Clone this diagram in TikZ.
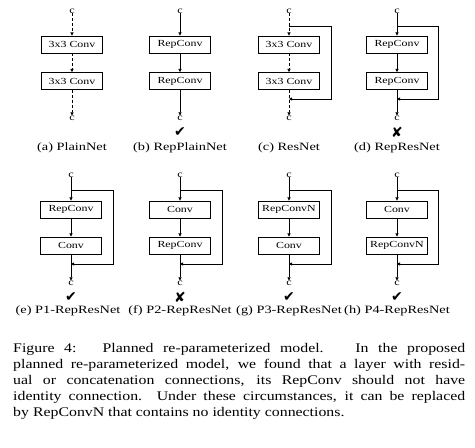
\documentclass[tikz,border=0pt]{standalone}
\usepackage{fontspec}
\setmainfont{Liberation Serif}[FakeStretch=1.28]
\newfontfamily\capfont{Liberation Serif}[FakeStretch=1.2]
\newfontfamily\symfont{DejaVu Sans}
\usetikzlibrary{arrows.meta}
\begin{document}
\begin{tikzpicture}[x=1pt,y=-1pt,
  blk/.style={draw, line width=0.8pt, minimum width=61pt, minimum height=17pt, inner sep=0pt, font=\fontsize{9.3}{10}\selectfont},
  clbl/.style={inner sep=0pt, font=\fontsize{9.5}{10}\selectfont},
  sub/.style={inner sep=0pt, font=\fontsize{11.2}{12}\selectfont},
  chk/.style={inner sep=0pt, font=\symfont\fontsize{14}{14}\selectfont},
  capl/.style={inner sep=0pt, anchor=base west, font=\capfont\fontsize{13.2}{16}\selectfont},
  arr/.style={-{Triangle[length=3.2pt,width=3.2pt]}, line width=0.7pt},
  dsh/.style={dashed, dash pattern=on 3pt off 2pt},
  conn/.style={line width=0.7pt}
]
\useasboundingbox (0,0) rectangle (475,448);

% ---------- top row ----------
% (a) PlainNet
\node[clbl] (ac1) at (72,11) {c};
\node[blk] (ab1) at (72,44.5) {3x3 Conv};
\node[blk] (ab2) at (72,81) {3x3 Conv};
\node[clbl] (ac2) at (72,118) {c};
\draw[arr,dsh] (ac1) -- (ab1);
\draw[arr,dsh] (ab1) -- (ab2);
\draw[arr,dsh] (ab2) -- (ac2);
\node[sub] (al) at (72,148) {(a) PlainNet};

% (b) RepPlainNet
\node[clbl] (bc1) at (180,11) {c};
\node[blk] (bb1) at (180,44.5) {RepConv};
\node[blk] (bb2) at (180,81) {RepConv};
\node[clbl] (bc2) at (180,118) {c};
\draw[arr] (bc1) -- (bb1);
\draw[arr] (bb1) -- (bb2);
\draw[arr] (bb2) -- (bc2);
\node[chk] (bm) at (180,132) {✔};
\node[sub] (bl) at (180,148) {(b) RepPlainNet};

% (c) ResNet
\node[clbl] (cc1) at (289,11) {c};
\node[blk] (cb1) at (289,44.5) {3x3 Conv};
\node[blk] (cb2) at (289,81) {3x3 Conv};
\node[clbl] (cc2) at (289,118) {c};
\draw[arr,dsh] (cc1) -- (cb1);
\draw[arr,dsh] (cb1) -- (cb2);
\draw[arr,dsh] (cb2) -- (cc2);
\coordinate (cs) at (289,26);
\coordinate (cr1) at (331,26);
\coordinate (cr2) at (331,99);
\coordinate (ce) at (289,99);
\draw[arr] (cs) -- (cr1) -- (cr2) -- (ce);
\node[sub] (cl) at (289,148) {(c) ResNet};

% (d) RepResNet
\node[clbl] (dc1) at (397,11) {c};
\node[blk] (db1) at (397,44.5) {RepConv};
\node[blk] (db2) at (397,81) {RepConv};
\node[clbl] (dc2) at (397,118) {c};
\draw[arr] (dc1) -- (db1);
\draw[arr] (db1) -- (db2);
\draw[arr] (db2) -- (dc2);
\coordinate (ds) at (397,26);
\coordinate (dr1) at (438,26);
\coordinate (dr2) at (438,99);
\coordinate (de) at (397,99);
\draw[arr] (ds) -- (dr1) -- (dr2) -- (de);
\node[chk] (dm) at (397,132) {✘};
\node[sub] (dl) at (397,148) {(d) RepResNet};

% ---------- bottom row ----------
% (e) P1
\node[clbl] (ec1) at (71,175) {c};
\node[blk] (eb1) at (71,209.5) {RepConv};
\node[blk] (eb2) at (71,245.5) {Conv};
\node[clbl] (ec2) at (71,283) {c};
\draw[arr] (ec1) -- (eb1);
\draw[arr] (eb1) -- (eb2);
\draw[arr] (eb2) -- (ec2);
\coordinate (es) at (71,190);
\coordinate (er1) at (113,190);
\coordinate (er2) at (113,264);
\coordinate (ee) at (71,264);
\draw[arr] (es) -- (er1) -- (er2) -- (ee);
\node[chk] (em) at (71,297) {✔};
\node[sub] (el) at (68,311) {(e) P1-RepResNet};

% (f) P2
\node[clbl] (fc1) at (180,175) {c};
\node[blk] (fb1) at (180,209.5) {Conv};
\node[blk] (fb2) at (180,245.5) {RepConv};
\node[clbl] (fc2) at (180,283) {c};
\draw[arr] (fc1) -- (fb1);
\draw[arr] (fb1) -- (fb2);
\draw[arr] (fb2) -- (fc2);
\coordinate (fs) at (180,190);
\coordinate (fr1) at (222,190);
\coordinate (fr2) at (222,264);
\coordinate (fe) at (180,264);
\draw[arr] (fs) -- (fr1) -- (fr2) -- (fe);
\node[chk] (fm) at (180,297) {✘};
\node[sub] (fl) at (180,311) {(f) P2-RepResNet};

% (g) P3
\node[clbl] (gc1) at (289,175) {c};
\node[blk] (gb1) at (289,209.5) {RepConvN};
\node[blk] (gb2) at (289,245.5) {Conv};
\node[clbl] (gc2) at (289,283) {c};
\draw[arr] (gc1) -- (gb1);
\draw[arr] (gb1) -- (gb2);
\draw[arr] (gb2) -- (gc2);
\coordinate (gs) at (289,190);
\coordinate (gr1) at (331,190);
\coordinate (gr2) at (331,264);
\coordinate (ge) at (289,264);
\draw[arr] (gs) -- (gr1) -- (gr2) -- (ge);
\node[chk] (gm) at (289,297) {✔};
\node[sub] (gl) at (289,311) {(g) P3-RepResNet};

% (h) P4
\node[clbl] (hc1) at (397,175) {c};
\node[blk] (hb1) at (397,209.5) {Conv};
\node[blk] (hb2) at (397,245.5) {RepConvN};
\node[clbl] (hc2) at (397,283) {c};
\draw[arr] (hc1) -- (hb1);
\draw[arr] (hb1) -- (hb2);
\draw[arr] (hb2) -- (hc2);
\coordinate (hs) at (397,190);
\coordinate (hr1) at (438,190);
\coordinate (hr2) at (438,264);
\coordinate (he) at (397,264);
\draw[arr] (hs) -- (hr1) -- (hr2) -- (he);
\node[chk] (hm) at (397,297) {✔};
\node[sub] (hl) at (397,311) {(h) P4-RepResNet};

% ---------- caption ----------
\node[capl] (t1) at (13,352) {\makebox[452pt][s]{Figure 4:~ Planned re-parameterized model.~ In the proposed}};
\node[capl] (t2) at (13,368) {\makebox[452pt][s]{planned re-parameterized model, we found that a layer with resid-}};
\node[capl] (t3) at (13,384) {\makebox[452pt][s]{ual or concatenation connections, its RepConv should not have}};
\node[capl] (t4) at (13,400) {\makebox[452pt][s]{identity connection. Under these circumstances, it can be replaced}};
\node[capl] (t5) at (13,416) {by RepConvN that contains no identity connections.};
\end{tikzpicture}
\end{document}
